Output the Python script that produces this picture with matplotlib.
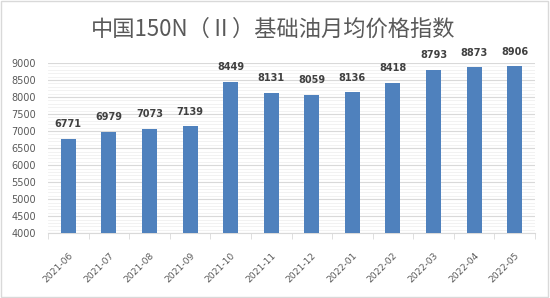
import matplotlib
matplotlib.use("Agg")
import matplotlib.pyplot as plt
from matplotlib.ticker import MultipleLocator

plt.rcParams['font.family'] = ['Noto Sans CJK SC', 'DejaVu Sans']

months = ['2021-06', '2021-07', '2021-08', '2021-09', '2021-10', '2021-11',
          '2021-12', '2022-01', '2022-02', '2022-03', '2022-04', '2022-05']
values = [6771, 6979, 7073, 7139, 8449, 8131, 8059, 8136, 8418, 8793, 8873, 8906]
title = '中国150N（Ⅱ）基础油月均价格指数'

fig = plt.figure(figsize=(5.5, 2.98), dpi=100)
fig.patch.set_facecolor('white')
border = plt.Rectangle((0.002, 0.003), 0.995, 0.993, transform=fig.transFigure,
                       fill=False, edgecolor='#d9d9d9', linewidth=1)
fig.add_artist(border)

ax = fig.add_axes([0.0873, 0.2175, 0.8854, 0.571])
x = list(range(len(months)))
ax.bar(x, values, width=0.37, color='#4f81bd', zorder=3)
ax.set_xlim(-0.5, len(months) - 0.5)
ax.set_ylim(4000, 9000)
ax.yaxis.set_major_locator(MultipleLocator(500))
ax.yaxis.set_minor_locator(MultipleLocator(100))
ax.grid(axis='y', which='major', color='#d9d9d9', linewidth=0.8, zorder=0)
ax.grid(axis='y', which='minor', color='#f0f0f0', linewidth=0.6, zorder=0)
for s in ['top', 'right', 'left']:
    ax.spines[s].set_visible(False)
ax.spines['bottom'].set_color('#d9d9d9')
ax.tick_params(axis='y', which='both', length=0, labelsize=7, labelcolor='#595959', pad=8.5)
ax.set_xticks(x)
ax.set_xticklabels(months, rotation=45, ha='right', rotation_mode='anchor',
                   fontsize=6.6, color='#595959', family='DejaVu Sans')
ax.set_xticks([i - 0.5 for i in range(len(months) + 1)], minor=True)
ax.tick_params(axis='x', which='major', length=0, pad=13)
ax.tick_params(axis='x', which='minor', length=4, color='#d9d9d9')
for lab in ax.get_yticklabels():
    lab.set_family('DejaVu Sans')

for xi, v in zip(x, values):
    ax.annotate(str(v), (xi, v), xytext=(0, 7), textcoords='offset points',
                ha='center', va='bottom', fontsize=7,
                fontweight='bold', color='#404040', family='DejaVu Sans')

fig.text(0.497, 0.903, title, ha='center', va='center', fontsize=16, color='#595959')

fig.savefig('out.png', dpi=100)
